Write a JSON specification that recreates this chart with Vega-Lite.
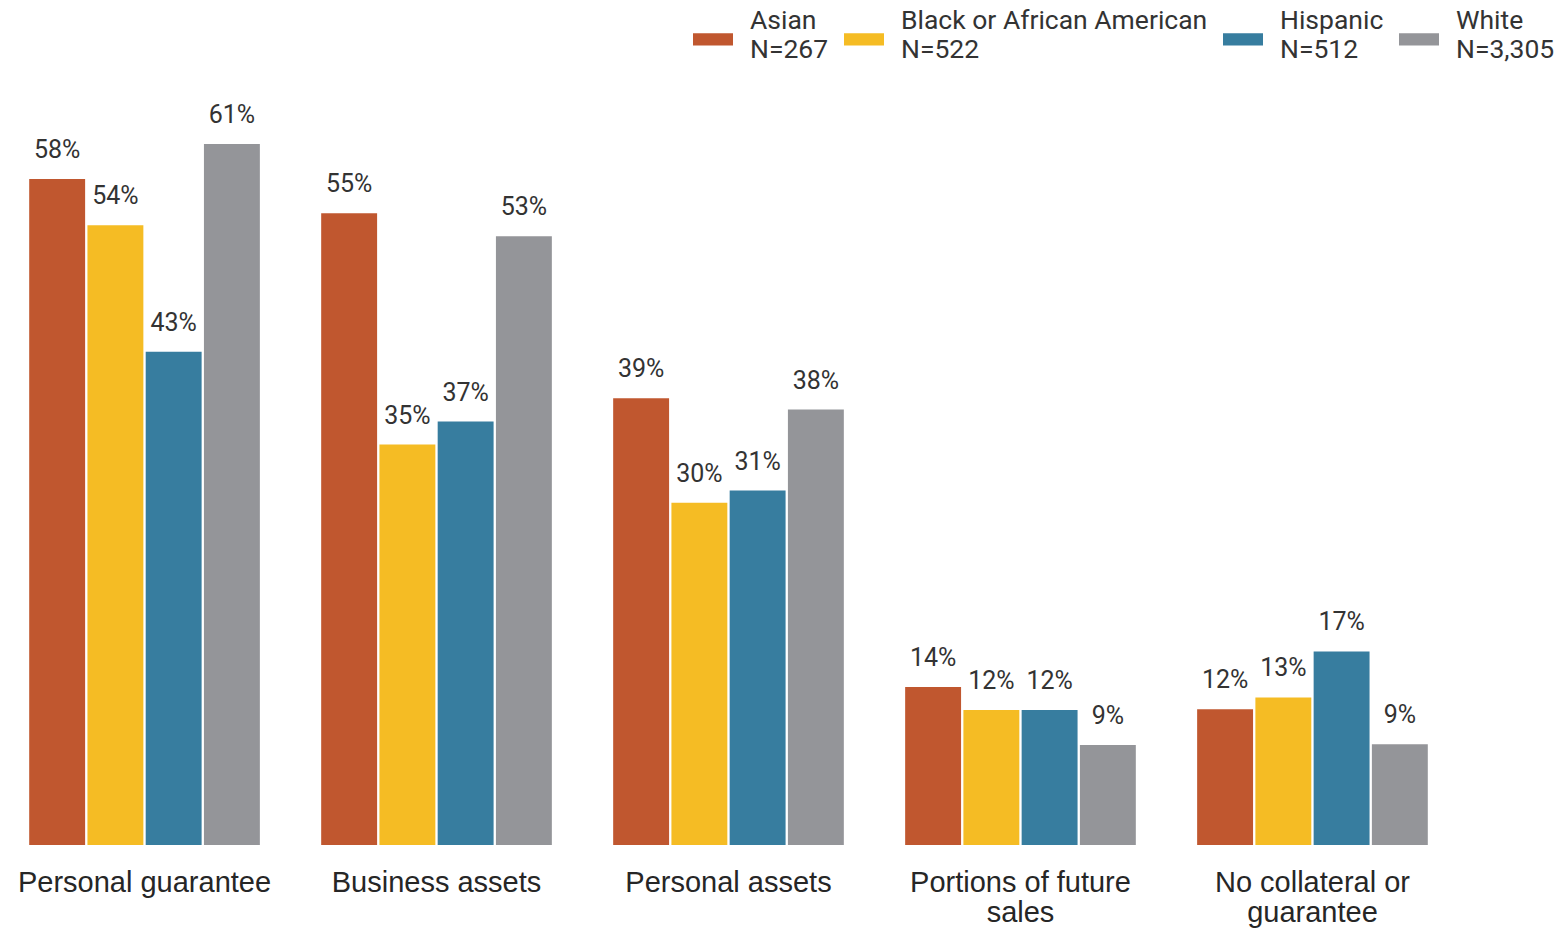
{
  "$schema": "https://vega.github.io/schema/vega-lite/v6.json",
  "width": 1457,
  "height": 845,
  "autosize": {"type": "none"},
  "padding": {"left": 0, "top": 0, "right": 106, "bottom": 85},
  "background": "white",
  "config": {
    "view": {"stroke": null},
    "font": "Roboto"
  },
  "data": {
    "values": [
      {"category": "Personal guarantee", "group": "Asian", "value": 0.5794},
      {"category": "Personal guarantee", "group": "Black or African American", "value": 0.539},
      {"category": "Personal guarantee", "group": "Hispanic", "value": 0.429},
      {"category": "Personal guarantee", "group": "White", "value": 0.6098},
      {"category": "Business assets", "group": "Asian", "value": 0.5496},
      {"category": "Business assets", "group": "Black or African American", "value": 0.3483},
      {"category": "Business assets", "group": "Hispanic", "value": 0.3683},
      {"category": "Business assets", "group": "White", "value": 0.5296},
      {"category": "Personal assets", "group": "Asian", "value": 0.3887},
      {"category": "Personal assets", "group": "Black or African American", "value": 0.2977},
      {"category": "Personal assets", "group": "Hispanic", "value": 0.3083},
      {"category": "Personal assets", "group": "White", "value": 0.3788},
      {"category": "Portions of future sales", "group": "Asian", "value": 0.1374},
      {"category": "Portions of future sales", "group": "Black or African American", "value": 0.1174},
      {"category": "Portions of future sales", "group": "Hispanic", "value": 0.1174},
      {"category": "Portions of future sales", "group": "White", "value": 0.087},
      {"category": "No collateral or guarantee", "group": "Asian", "value": 0.118},
      {"category": "No collateral or guarantee", "group": "Black or African American", "value": 0.1284},
      {"category": "No collateral or guarantee", "group": "Hispanic", "value": 0.1684},
      {"category": "No collateral or guarantee", "group": "White", "value": 0.0876}
    ]
  },
  "encoding": {
    "x": {
      "field": "category",
      "type": "nominal",
      "sort": ["Personal guarantee", "Business assets", "Personal assets", "Portions of future sales", "No collateral or guarantee"],
      "scale": {"paddingInner": 0.21, "paddingOuter": 0.1},
      "axis": {
        "title": null,
        "domain": false,
        "ticks": false,
        "tickSize": 0,
        "grid": false,
        "labelAngle": 0,
        "labelFont": "Liberation Sans",
        "labelFontSize": 29,
        "labelColor": "#262626",
        "labelBaseline": "top",
        "labelPadding": 23,
        "labelLineHeight": 30,
        "labelLimit": 0,
        "labelExpr": "datum.label == 'Portions of future sales' ? ['Portions of future', 'sales'] : datum.label == 'No collateral or guarantee' ? ['No collateral or', 'guarantee'] : datum.label"
      }
    },
    "xOffset": {
      "field": "group",
      "type": "nominal",
      "sort": ["Asian", "Black or African American", "Hispanic", "White"],
      "scale": {"paddingInner": 0.04, "paddingOuter": 0}
    },
    "y": {
      "field": "value",
      "type": "quantitative",
      "scale": {"domain": [0, 0.735], "nice": false, "zero": true},
      "axis": null
    }
  },
  "layer": [
    {
      "mark": {"type": "bar"},
      "encoding": {
        "color": {
          "field": "group",
          "type": "nominal",
          "sort": ["Asian", "Black or African American", "Hispanic", "White"],
          "scale": {
            "domain": ["Asian", "Black or African American", "Hispanic", "White"],
            "range": ["#C0572F", "#F5BC24", "#377D9F", "#949599"]
          },
          "legend": {
            "orient": "none",
            "legendX": 693,
            "legendY": 1,
            "direction": "horizontal",
            "title": null,
            "padding": 0,
            "symbolType": "M-1,0.61L1,0.61L1,1.23L-1,1.23Z",
            "symbolSize": 1600,
            "symbolStrokeWidth": 0,
            "symbolOpacity": 1,
            "labelFont": "Roboto",
            "labelFontSize": 26.5,
            "labelColor": "#333333",
            "labelLineHeight": 28,
            "labelOffset": 17,
            "labelLimit": 0,
            "columnPadding": 15,
            "labelExpr": "datum.label == 'Asian' ? ['Asian', 'N=267'] : datum.label == 'Black or African American' ? ['Black or African American', 'N=522'] : datum.label == 'Hispanic' ? ['Hispanic', 'N=512'] : ['White', 'N=3,305']"
          }
        }
      }
    },
    {
      "mark": {"type": "text", "baseline": "alphabetic", "align": "center", "dy": -21, "font": "Roboto", "fontSize": 25, "color": "#333333"},
      "encoding": {
        "text": {"field": "value", "type": "quantitative", "format": ".0%"}
      }
    }
  ]
}
